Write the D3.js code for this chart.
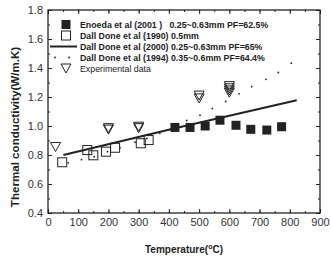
<!DOCTYPE html>
<html>
<head>
<meta charset="utf-8">
<script src="https://cdn.jsdelivr.net/npm/d3@7"></script>
<style>
  body { margin: 0; background: #fff; }
  svg { display: block; font-family: "Liberation Sans", Arial, sans-serif; }
</style>
</head>
<body>
<svg id="chart" width="331" height="256"></svg>
<script>
// Enoeda et al (2001) - filled squares
var enoedaX = [420, 470, 520, 569, 622, 671, 724, 773];
var enoedaY = [0.99, 0.99, 1.0, 1.04, 1.005, 0.977, 0.972, 0.995];

// Dall Done et al (1990) - open squares
var dd1990X = [47, 130, 150, 192, 222, 307, 333];
var dd1990Y = [0.75, 0.834, 0.798, 0.823, 0.85, 0.881, 0.903];

// Dall Done et al (2000) - solid line
var dd2000X = [51, 420, 823];
var dd2000Y = [0.80, 0.985, 1.178];

// Dall Done et al (1994) - dots
var dd1994X = [67, 111, 153, 197, 238, 288, 327, 370, 415, 459, 503, 544, 588, 632, 674, 721, 762, 805];
var dd1994Y = [0.746, 0.768, 0.788, 0.823, 0.85, 0.888, 0.915, 0.95, 0.99, 1.038, 1.075, 1.12, 1.169, 1.222, 1.271, 1.322, 1.369, 1.433];

// Experimental data - open down triangles
var expX = [25, 200, 200, 300, 300, 500, 500, 600, 600, 600, 600];
var expY = [0.855, 0.985, 0.975, 0.995, 0.985, 1.21, 1.19, 1.275, 1.26, 1.245, 1.23];

var xTicks = [0, 100, 200, 300, 400, 500, 600, 700, 800, 900];
var yTicks = [0.4, 0.6, 0.8, 1.0, 1.2, 1.4, 1.6, 1.8];

var legendLabels = [
  "Enoeda et al (2001 )   0.25~0.63mm PF=62.5%",
  "Dall Done et al (1990) 0.5mm",
  "Dall Done et al (2000) 0.25~0.63mm PF=65%",
  "Dall Done et al (1994) 0.35~0.6mm PF=64.4%",
  "Experimental data"
];

var ink = "#222";
var svg = d3.select("#chart");

var x = d3.scaleLinear().domain([0, 900]).range([48, 320]);
var y = d3.scaleLinear().domain([0.4, 1.8]).range([213, 10]);

var minorX = d3.range(0, 901, 50);
var minorY = d3.range(4, 19).map(function(d) { return d / 10; });

// axes: ticks pointing inward on all four sides
function styleAxis(g) {
  g.select(".domain").remove();
  g.selectAll("line").attr("stroke", ink).attr("stroke-width", 1);
  g.selectAll("text").attr("fill", "#333").attr("font-size", "11px")
    .attr("font-family", "Liberation Sans, Arial, sans-serif");
}

svg.append("g").attr("transform", "translate(0,213)")
  .call(d3.axisBottom(x).tickValues(minorX).tickSize(-2).tickFormat(""))
  .call(styleAxis);
svg.append("g").attr("transform", "translate(0,213)")
  .call(d3.axisBottom(x).tickValues(xTicks).tickSize(-4).tickPadding(5).tickFormat(d3.format("d")))
  .call(styleAxis);
svg.append("g").attr("transform", "translate(0,10)")
  .call(d3.axisTop(x).tickValues(minorX).tickSize(-2).tickFormat(""))
  .call(styleAxis);
svg.append("g").attr("transform", "translate(0,10)")
  .call(d3.axisTop(x).tickValues(xTicks).tickSize(-4).tickFormat(""))
  .call(styleAxis);

svg.append("g").attr("transform", "translate(48,0)")
  .call(d3.axisLeft(y).tickValues(minorY).tickSize(-2).tickFormat(""))
  .call(styleAxis);
svg.append("g").attr("transform", "translate(48,0)")
  .call(d3.axisLeft(y).tickValues(yTicks).tickSize(-4).tickPadding(5).tickFormat(d3.format(".1f")))
  .call(styleAxis);
svg.append("g").attr("transform", "translate(320,0)")
  .call(d3.axisRight(y).tickValues(minorY).tickSize(-2).tickFormat(""))
  .call(styleAxis);
svg.append("g").attr("transform", "translate(320,0)")
  .call(d3.axisRight(y).tickValues(yTicks).tickSize(-4).tickFormat(""))
  .call(styleAxis);

svg.append("rect")
  .attr("x", 48).attr("y", 10)
  .attr("width", 272).attr("height", 203)
  .attr("fill", "none").attr("stroke", ink).attr("stroke-width", 1.3);

// axis titles
svg.append("text")
  .attr("x", 184).attr("y", 253)
  .attr("text-anchor", "middle")
  .attr("font-size", "10px").attr("font-weight", "bold").attr("fill", ink)
  .call(function(t) {
    t.append("tspan").text("Temperature(");
    t.append("tspan").attr("font-size", "7px").attr("dy", -4).text("o");
    t.append("tspan").attr("dy", 4).text("C)");
  });

svg.append("text")
  .attr("transform", "translate(19,127) rotate(-90)")
  .attr("text-anchor", "middle")
  .attr("font-size", "11.6px").attr("font-weight", "bold").attr("fill", ink)
  .text("Thermal conductivity(W/m.K)");

// series
var plot = svg.append("g");

var line = d3.line()
  .x(function(d) { return x(d[0]); })
  .y(function(d) { return y(d[1]); });

plot.append("path")
  .datum(d3.zip(dd2000X, dd2000Y))
  .attr("d", line)
  .attr("fill", "none").attr("stroke", ink).attr("stroke-width", 2);

plot.selectAll(".dot")
  .data(d3.zip(dd1994X, dd1994Y))
  .enter().append("circle")
  .attr("class", "dot")
  .attr("cx", function(d) { return x(d[0]); })
  .attr("cy", function(d) { return y(d[1]); })
  .attr("r", 0.9).attr("fill", ink);

var sq = 9;
plot.selectAll(".osq")
  .data(d3.zip(dd1990X, dd1990Y))
  .enter().append("rect")
  .attr("class", "osq")
  .attr("x", function(d) { return x(d[0]) - sq / 2; })
  .attr("y", function(d) { return y(d[1]) - sq / 2; })
  .attr("width", sq).attr("height", sq)
  .attr("fill", "none").attr("stroke", ink).attr("stroke-width", 1);

plot.selectAll(".fsq")
  .data(d3.zip(enoedaX, enoedaY))
  .enter().append("rect")
  .attr("class", "fsq")
  .attr("x", function(d) { return x(d[0]) - sq / 2; })
  .attr("y", function(d) { return y(d[1]) - sq / 2; })
  .attr("width", sq).attr("height", sq)
  .attr("fill", ink);

function triPath(cx, cy) {
  return "M" + (cx - 5) + "," + (cy - 4.5) + "L" + (cx + 5) + "," + (cy - 4.5) +
    "L" + cx + "," + (cy + 4.5) + "Z";
}

plot.selectAll(".tri")
  .data(d3.zip(expX, expY))
  .enter().append("path")
  .attr("class", "tri")
  .attr("d", function(d) { return triPath(x(d[0]), y(d[1])); })
  .attr("fill", "none").attr("stroke", ink).attr("stroke-width", 1);

// legend
var legY = [24.5, 35.5, 46.5, 57.5, 68.5];
var leg = svg.append("g");

leg.append("rect").attr("x", 66 - 4.5).attr("y", legY[0] - 4.5)
  .attr("width", 9).attr("height", 9).attr("fill", ink);
leg.append("rect").attr("x", 66 - 4.5).attr("y", legY[1] - 4.5)
  .attr("width", 9).attr("height", 9).attr("fill", "none").attr("stroke", ink);
leg.append("line").attr("x1", 50).attr("x2", 77)
  .attr("y1", legY[2]).attr("y2", legY[2])
  .attr("stroke", ink).attr("stroke-width", 2);
leg.selectAll(".ldot").data([55, 69]).enter().append("circle")
  .attr("cx", function(d) { return d; }).attr("cy", legY[3])
  .attr("r", 0.9).attr("fill", ink);
leg.append("path").attr("d", triPath(66, legY[4]))
  .attr("fill", "none").attr("stroke", ink);

leg.selectAll(".ltxt")
  .data(legendLabels)
  .enter().append("text")
  .attr("x", 80)
  .attr("y", function(d, i) { return legY[i] + 3; })
  .attr("font-size", "8.8px")
  .attr("font-weight", function(d, i) { return i < 4 ? "bold" : "normal"; })
  .attr("fill", ink)
  .style("white-space", "pre")
  .text(function(d) { return d; });
</script>
</body>
</html>
